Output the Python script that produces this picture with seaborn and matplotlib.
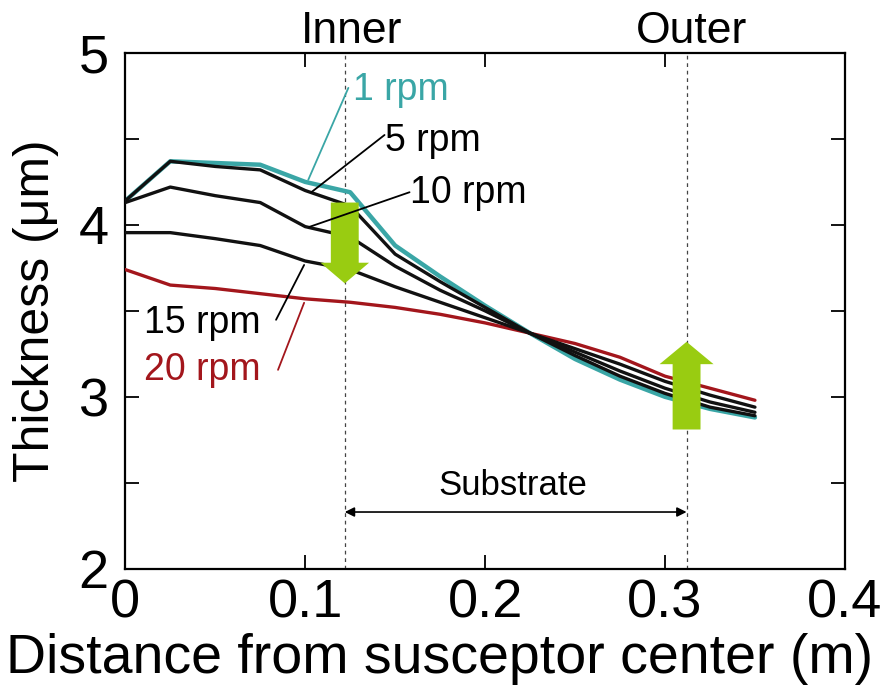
import numpy as np
import pandas as pd
import matplotlib
matplotlib.use("Agg")
import matplotlib.pyplot as plt
import matplotlib.patches as mpatches
import seaborn as sns

sns.set_style("ticks")
plt.rcParams['font.family'] = ['Liberation Sans', 'DejaVu Sans']
plt.rcParams.update({'text.color': 'black', 'axes.labelcolor': 'black',
                     'xtick.color': 'black', 'ytick.color': 'black',
                     'axes.edgecolor': 'black'})

# distance from susceptor center (m)
distance = [0.0, 0.025, 0.05, 0.075, 0.1, 0.125, 0.15, 0.175, 0.2, 0.225,
            0.25, 0.275, 0.3, 0.325, 0.35]

# thickness (um) for each rotation speed
rpm1 = [4.14, 4.37, 4.36, 4.35, 4.25, 4.19, 3.88, 3.70, 3.53, 3.37,
        3.22, 3.10, 3.00, 2.93, 2.88]
rpm5 = [4.14, 4.37, 4.34, 4.32, 4.20, 4.11, 3.83, 3.67, 3.52, 3.37,
        3.24, 3.12, 3.02, 2.94, 2.89]
rpm10 = [4.13, 4.22, 4.17, 4.13, 3.99, 3.93, 3.76, 3.62, 3.50, 3.37,
         3.26, 3.15, 3.05, 2.97, 2.91]
rpm15 = [3.955, 3.955, 3.92, 3.88, 3.79, 3.74, 3.64, 3.55, 3.46, 3.37,
         3.28, 3.19, 3.09, 3.01, 2.94]
rpm20 = [3.74, 3.65, 3.63, 3.60, 3.57, 3.55, 3.52, 3.48, 3.43, 3.37,
         3.31, 3.23, 3.12, 3.05, 2.98]

series = {'1 rpm': rpm1, '5 rpm': rpm5, '10 rpm': rpm10,
          '15 rpm': rpm15, '20 rpm': rpm20}
colors = {'1 rpm': '#3aa6a6', '5 rpm': '#111111', '10 rpm': '#111111',
          '15 rpm': '#111111', '20 rpm': '#a3161c'}

inner_x = 0.122
outer_x = 0.312

rows = []
for name, vals in series.items():
    for d, t in zip(distance, vals):
        rows.append({'Distance': d, 'Thickness': t, 'Speed': name})
df = pd.DataFrame(rows)

fig = plt.figure(figsize=(8.95, 6.97), dpi=100)
ax = fig.add_axes([0.140, 0.184, 0.804, 0.740])

order = ['20 rpm', '15 rpm', '10 rpm', '5 rpm', '1 rpm']
for name in order:
    sub = df[df['Speed'] == name]
    lw = 3.2 if name == '1 rpm' else 2.4
    sns.lineplot(data=sub, x='Distance', y='Thickness', color=colors[name],
                 lw=lw, ax=ax, legend=False, zorder=3 if name != '1 rpm' else 2)

# inner / outer markers
for xv in (inner_x, outer_x):
    ax.axvline(xv, color='#444444', lw=0.9, ls=(0, (3, 3)), zorder=1)
ax.text(0.1257, 5.058, 'Inner', ha='center', va='baseline', fontsize=32)
ax.text(0.3145, 5.058, 'Outer', ha='center', va='baseline', fontsize=32)

# substrate span
ax.annotate('', xy=(inner_x, 2.33), xytext=(outer_x, 2.33),
            arrowprops=dict(arrowstyle='<|-|>', color='black', lw=1.2,
                            mutation_scale=14, shrinkA=0, shrinkB=0))
ax.text(0.2155, 2.39, 'Substrate', ha='center', va='bottom', fontsize=25)

# green arrows
green = '#99cc11'
ax.add_patch(mpatches.FancyArrow(
    inner_x, 4.13, 0, -0.47, width=0.0155, head_width=0.027,
    head_length=0.12, length_includes_head=True, color=green, zorder=4, lw=0))
ax.add_patch(mpatches.FancyArrow(
    outer_x, 2.81, 0, 0.51, width=0.0155, head_width=0.030,
    head_length=0.13, length_includes_head=True, color=green, zorder=4, lw=0))

# curve labels with leader lines
labels = [
    ('1 rpm', (0.1268, 4.785), colors['1 rpm']),
    ('5 rpm', (0.1441, 4.488), 'black'),
    ('10 rpm', (0.158, 4.186), 'black'),
    ('15 rpm', (0.0105, 3.427), 'black'),
    ('20 rpm', (0.0105, 3.157), colors['20 rpm']),
]
for text, txy, c in labels:
    ax.text(txy[0], txy[1], text, color=c, fontsize=27, va='center', ha='left')
leaders = [
    ((0.1240, 4.797), (0.1017, 4.262), colors['1 rpm']),
    ((0.1441, 4.523), (0.1034, 4.190), 'black'),
    ((0.1580, 4.190), (0.1022, 3.988), 'black'),
    ((0.0994, 3.767), (0.0838, 3.448), 'black'),
    ((0.0994, 3.547), (0.0849, 3.157), colors['20 rpm']),
]
for p0, p1, c in leaders:
    ax.plot([p0[0], p1[0]], [p0[1], p1[1]], color=c, lw=1.3, zorder=5)

ax.set_xlim(0, 0.4)
ax.set_ylim(2, 5)
ax.set_xticks([0, 0.1, 0.2, 0.3, 0.4])
ax.set_xticklabels(['0', '0.1', '0.2', '0.3', '0.4'])
ax.set_yticks([2, 3, 4, 5])
ax.set_yticks([2.5, 3.5, 4.5], minor=True)
ax.tick_params(axis='both', which='both', direction='in', top=True,
               right=True, labelsize=39, width=1.3, length=10)
ax.tick_params(axis='x', which='major', pad=7)
ax.tick_params(axis='y', which='major', pad=12)
ax.tick_params(axis='both', which='minor', length=10)
for s in ax.spines.values():
    s.set_linewidth(1.6)

ax.set_xlabel('Distance from susceptor center (m)', fontsize=40)
ax.xaxis.set_label_coords(0.437, -0.125)
ax.set_ylabel('Thickness (\u03bcm)', fontsize=36)
ax.yaxis.set_label_coords(-0.092, 0.5)

fig.savefig('out.png', dpi=100)
